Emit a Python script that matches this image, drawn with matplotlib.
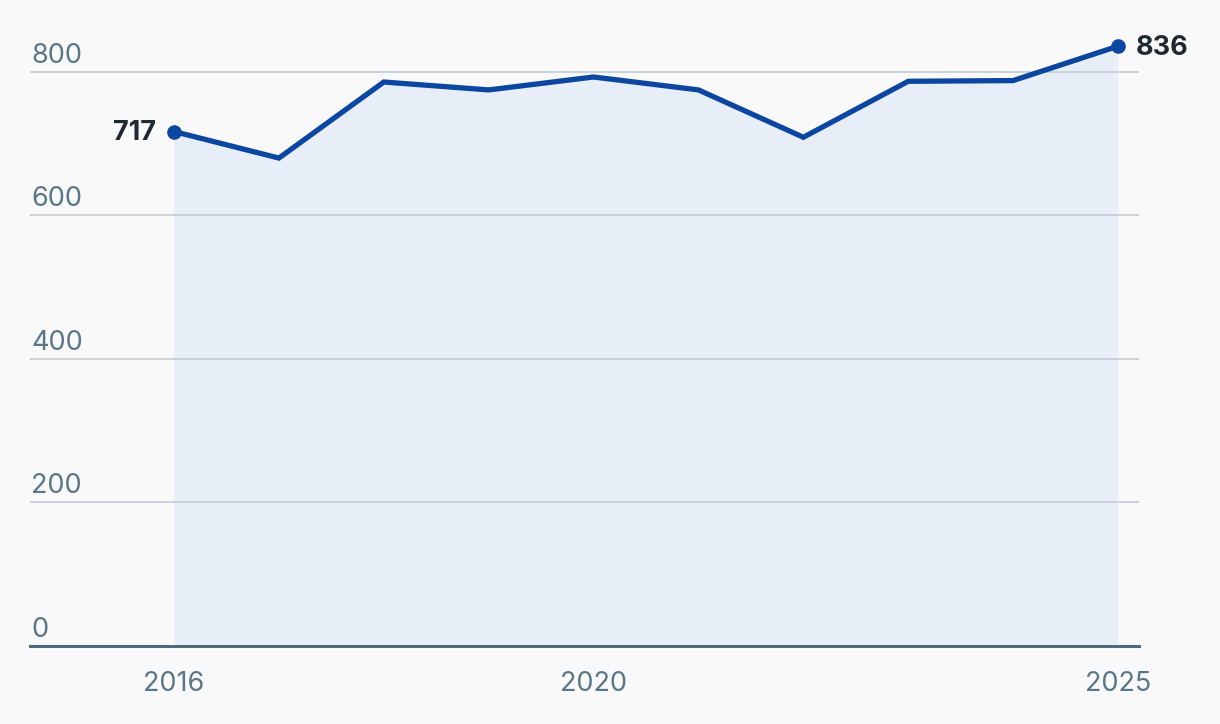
import matplotlib

matplotlib.use("Agg")

import matplotlib.pyplot as plt
import matplotlib.transforms as mtransforms

plt.rcParams["font.family"] = ["Inter", "DejaVu Sans"]

years = [2016, 2017, 2018, 2019, 2020, 2021, 2022, 2023, 2024, 2025]
values = [717, 680, 786, 775, 793, 775, 709, 787, 788, 836]
y_ticks = [0, 200, 400, 600, 800]
x_ticks = [2016, 2020, 2025]

bg = "#f9f9f9"
line_color = "#0b47a1"
fill_color = "#e8eef8"
grid_color = "#c5d0db"
axis_color = "#4f6b7e"
tick_color = "#5a7687"
label_color = "#1f2a30"

fig = plt.figure(figsize=(12.2, 7.24), dpi=100, facecolor=bg)
ax = fig.add_axes([30 / 1220, 78 / 724, 1109 / 1220, 616 / 724])
ax.set_facecolor(bg)

ax.set_xlim(2014.627, 2025.2)
ax.set_ylim(0, 858.5)

ax.fill_between(years, values, 0, color=fill_color, lw=0, zorder=1)
for t in y_ticks[1:]:
    ax.axhline(t, color=grid_color, lw=1.3, zorder=2)
ax.axhline(0, color=axis_color, lw=2.2, zorder=4, clip_on=False)

ax.plot(years, values, color=line_color, lw=3.8, solid_joinstyle="miter", zorder=3)
ax.plot([years[0], years[-1]], [values[0], values[-1]], "o", color=line_color,
        ms=9.5, zorder=5)

ax.annotate(str(values[0]), (years[0], values[0]), xytext=(-13, -1),
            textcoords="offset points", ha="right", va="center",
            fontsize=19.5, fontweight="bold", color=label_color)
ax.annotate(str(values[-1]), (years[-1], values[-1]), xytext=(13, -1),
            textcoords="offset points", ha="left", va="center",
            fontsize=19.5, fontweight="bold", color=label_color)

# y labels sit just above their gridlines
ytrans = mtransforms.blended_transform_factory(ax.transAxes, ax.transData)
lift = mtransforms.ScaledTranslation(0, 9 / 100, fig.dpi_scale_trans)
for t in y_ticks:
    ax.text(0.001, t, str(t), transform=ytrans + lift,
            fontsize=19.5, color=tick_color, ha="left", va="baseline")

ax.set_xticks(x_ticks)
ax.set_xticklabels([str(x) for x in x_ticks], fontsize=19.5, color=tick_color)
ax.tick_params(axis="x", length=0, pad=18)
ax.set_yticks([])
for s in ax.spines.values():
    s.set_visible(False)

fig.savefig("out.png", dpi=100, facecolor=bg)
